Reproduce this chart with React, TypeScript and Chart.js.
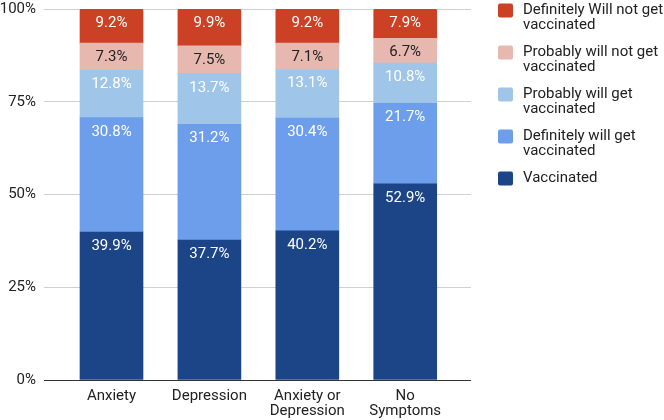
import React, { useEffect, useRef } from "react";
import { Chart, registerables } from "chart.js";

Chart.register(...registerables);

const categories = ["Anxiety", "Depression", "Anxiety or Depression", "No Symptoms"];
const seriesNames = [
  "Vaccinated",
  "Definitely will get vaccinated",
  "Probably will get vaccinated",
  "Probably will not get vaccinated",
  "Definitely Will not get vaccinated",
];
const vaccinated = [39.9, 37.7, 40.2, 52.9];
const definitelyWill = [30.8, 31.2, 30.4, 21.7];
const probablyWill = [12.8, 13.7, 13.1, 10.8];
const probablyWillNot = [7.3, 7.5, 7.1, 6.7];
const definitelyWillNot = [9.2, 9.9, 9.2, 7.9];
const yTicks = [0, 25, 50, 75, 100];

const seriesValues = [vaccinated, definitelyWill, probablyWill, probablyWillNot, definitelyWillNot];
const seriesColors = ["#1c4587", "#6d9eeb", "#9fc5e8", "#e6b8af", "#cc4125"];
const labelColors = ["#ffffff", "#ffffff", "#ffffff", "#222222", "#ffffff"];

const FONT_FAMILY = "Roboto";
const FONT_SIZE = 15;
const TEXT_COLOR = "#222222";

const measureCtx = document.createElement("canvas").getContext("2d") as CanvasRenderingContext2D;

function wrap(text: string, maxWidth: number): string[] {
  measureCtx.font = `${FONT_SIZE}px ${FONT_FAMILY}`;
  const words = text.split(" ");
  const lines: string[] = [];
  let cur = "";
  for (const w of words) {
    const test = cur ? cur + " " + w : w;
    if (cur && measureCtx.measureText(test).width > maxWidth) {
      lines.push(cur);
      cur = w;
    } else {
      cur = test;
    }
  }
  if (cur) lines.push(cur);
  return lines;
}

const dataLabelPlugin = {
  id: "segmentLabels",
  afterDatasetsDraw(chart: any) {
    const ctx = chart.ctx;
    ctx.save();
    ctx.font = `${FONT_SIZE}px ${FONT_FAMILY}`;
    ctx.textAlign = "center";
    ctx.textBaseline = "alphabetic";
    chart.data.datasets.forEach((ds: any, di: number) => {
      const meta = chart.getDatasetMeta(di);
      meta.data.forEach((el: any, i: number) => {
        const v = seriesValues[di][i];
        const { x, y } = el.getProps(["x", "y"], true);
        ctx.fillStyle = labelColors[di];
        ctx.fillText(v.toFixed(1) + "%", x, y + 18);
      });
    });
    ctx.restore();
  },
};

const sideLegendPlugin = {
  id: "sideLegend",
  afterDraw(chart: any) {
    const ctx = chart.ctx;
    ctx.save();
    ctx.font = `${FONT_SIZE}px ${FONT_FAMILY}`;
    ctx.textAlign = "left";
    ctx.textBaseline = "alphabetic";
    const boxX = chart.chartArea.right + 27;
    const textX = boxX + 25;
    const maxW = chart.width - textX;
    const n = chart.data.datasets.length;
    for (let k = 0; k < n; k++) {
      const di = n - 1 - k;
      const ds = chart.data.datasets[di];
      const top = 3.5 + k * 42;
      ctx.fillStyle = ds.backgroundColor;
      ctx.beginPath();
      if (ctx.roundRect) ctx.roundRect(boxX, top, 15, 14, 2);
      else ctx.rect(boxX, top, 15, 14);
      ctx.fill();
      ctx.fillStyle = TEXT_COLOR;
      const lines = wrap(ds.label, maxW);
      lines.forEach((line, li) => {
        ctx.fillText(line, textX, top + 10 + li * 15);
      });
    }
    ctx.restore();
  },
};

export default function App() {
  const ref = useRef<HTMLCanvasElement>(null);

  useEffect(() => {
    if (!ref.current) return;
    const datasets = seriesNames.map((name, di) => ({
      label: name,
      data: seriesValues[di].map((v, i) => ({ x: i, y: v })),
      backgroundColor: seriesColors[di],
      borderWidth: 0,
      barThickness: 63,
      borderRadius: di === seriesNames.length - 1 ? 2 : 0,
    }));

    const chart = new Chart(ref.current, {
      type: "bar",
      data: { datasets },
      options: {
        animation: false,
        responsive: false,
        maintainAspectRatio: false,
        layout: { padding: { top: 0, right: 193, left: 0, bottom: 0 } },
        plugins: {
          legend: { display: false },
          tooltip: { enabled: false },
        },
        scales: {
          x: {
            type: "linear",
            stacked: true,
            offset: false,
            min: -0.6895,
            max: 3.672,
            grid: { display: false, offset: false },
            border: { display: false },
            afterBuildTicks: (s: any) => {
              s.ticks = categories.map((_, i) => ({ value: i }));
            },
            afterFit: (s: any) => {
              s.height = 40;
            },
            ticks: {
              autoSkip: false,
              maxRotation: 0,
              padding: 0.5,
              color: TEXT_COLOR,
              font: { family: FONT_FAMILY, size: FONT_SIZE, lineHeight: 15 / FONT_SIZE },
              callback: (v: any) => wrap(categories[v] ?? "", 80),
            },
          },
          y: {
            stacked: true,
            min: 0,
            max: 100,
            afterBuildTicks: (s: any) => {
              s.ticks = yTicks.map((v) => ({ value: v }));
            },
            afterFit: (s: any) => {
              s.width = 44;
              s.paddingTop = 9;
              s.paddingBottom = 0;
            },
            grid: {
              drawTicks: false,
              color: (c: any) => (c.tick && c.tick.value === 0 ? "#333333" : "#d0d0d0"),
            },
            border: { display: false },
            ticks: {
              padding: 8,
              color: TEXT_COLOR,
              font: { family: FONT_FAMILY, size: FONT_SIZE, lineHeight: 18 / FONT_SIZE },
              callback: (v: any) => v + "%",
            },
          },
        },
      } as any,
      plugins: [dataLabelPlugin, sideLegendPlugin],
    });
    return () => chart.destroy();
  }, []);

  return (
    <div style={{ position: "absolute", left: 0, top: 0, width: 664, height: 420, background: "#fff" }}>
      <canvas ref={ref} width={664} height={420} style={{ display: "block" }} />
    </div>
  );
}
